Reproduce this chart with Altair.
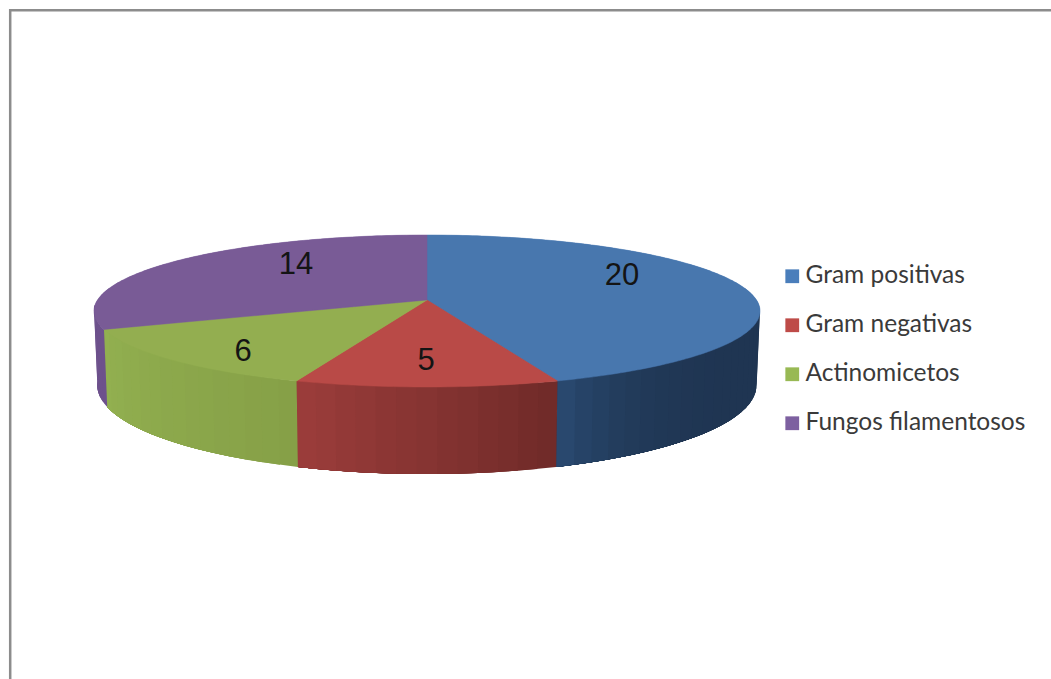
import math

import altair as alt
import pandas as pd

# Series
categories = ["Gram positivas", "Gram negativas", "Actinomicetos", "Fungos filamentosos"]
values = [20, 5, 6, 14]

# Colours
legend_colors = ["#4a7ebb", "#be4b48", "#98b954", "#7d60a0"]
top_colors = ["#4877ae", "#b94a47", "#93ae50", "#795b96"]
wall_from = ["#1f3552", "#6f2a28", "#86a047", "#6d518c"]
wall_to = ["#2a4b72", "#9c3d3b", "#92b050", "#6d518c"]

# Label anchor points for the value texts
label_x = [622, 426, 243, 296]
label_y = [276, 361, 352, 265]

# Perspective disc
CX, CY = 427, 300
RX, RY = 329.5, 74.4
TILT = 0.1447
BASE_Y, BASE_RY, BASE_SCALE = 372.7, 86.7, 0.99
WALL_START, WALL_END = 94, 266
W, H = 1051, 679


def top_point(deg):
    u, v = math.sin(math.radians(deg)), -math.cos(math.radians(deg))
    w = 1 - TILT * v
    return [CX + RX * u / w, CY + RY * v / w]


def base_point(deg):
    u, v = math.sin(math.radians(deg)), -math.cos(math.radians(deg))
    w = 1 - TILT * v
    return [CX + BASE_SCALE * RX * u / w, BASE_Y + BASE_RY * v / w]


def mix(c0, c1, t):
    a = [int(c0[i:i + 2], 16) for i in (1, 3, 5)]
    b = [int(c1[i:i + 2], 16) for i in (1, 3, 5)]
    return "#" + "".join(f"{round(p + (q - p) * t):02x}" for p, q in zip(a, b))


def feature(ring, **props):
    return {
        "type": "Feature",
        "geometry": {"type": "Polygon", "coordinates": [ring + [ring[0]]]},
        "properties": props,
    }


# Slice boundaries in degrees, clockwise from the back of the disc
total = sum(values)
edges = [0.0]
for v in values:
    edges.append(edges[-1] + 360 * v / total)

wedges, walls = [], []
for i, name in enumerate(categories):
    a0, a1 = edges[i], edges[i + 1]
    steps = max(2, int(a1 - a0))
    arc = [top_point(a0 + (a1 - a0) * s / steps) for s in range(steps + 1)]
    wedges.append(feature([[CX, CY]] + arc, series=name, fill=top_colors[i]))

    w0, w1 = max(a0, WALL_START), min(a1, WALL_END)
    if w1 > w0:
        n = max(2, int((w1 - w0) / 3))
        # Each band runs on to the end of the slice, so the next one paints over it
        # and no gaps show between neighbouring shades.
        for s in range(n):
            d0 = w0 + (w1 - w0) * s / n
            t = (s + 0.5) / n
            # Shade stays dark over most of the blue wall and lifts near its left end
            if i == 0:
                t = t ** 6
            span = [d0 + (w1 - d0) * k / 8 for k in range(9)]
            walls.append(
                feature(
                    [top_point(d) for d in span] + [base_point(d) for d in reversed(span)],
                    series=name,
                    fill=mix(wall_from[i], wall_to[i], t),
                )
            )

projection = dict(type="identity", scale=1, translate=[0, 0])

# Flat layer that carries the colour legend
legend_layer = (
    alt.Chart(alt.Data(values=wedges))
    .mark_geoshape(strokeWidth=0)
    .encode(
        color=alt.Color(
            "properties.series:N",
            scale=alt.Scale(domain=categories, range=legend_colors),
            legend=alt.Legend(
                title=None,
                orient="none",
                legendX=780,
                legendY=264,
                symbolType="square",
                symbolSize=190,
                symbolStrokeWidth=0,
                symbolOpacity=1,
                labelFont="Lato",
                labelFontSize=24.5,
                labelColor="#3a3a3a",
                labelOffset=1,
                rowPadding=24,
                labelLimit=300,
            ),
        )
    )
    .project(**projection)
)

wall_layer = (
    alt.Chart(alt.Data(values=walls))
    .mark_geoshape(strokeWidth=0)
    .encode(fill=alt.Fill("properties.fill:N", scale=None, legend=None))
    .project(**projection)
)

top_layer = (
    alt.Chart(alt.Data(values=wedges))
    .mark_geoshape(strokeWidth=0.5)
    .encode(
        fill=alt.Fill("properties.fill:N", scale=None, legend=None),
        stroke=alt.Stroke("properties.fill:N", scale=None, legend=None),
    )
    .project(**projection)
)

# Value labels, placed through pixel-aligned linear scales
labels = pd.DataFrame({"value": values, "lx": label_x, "ly": label_y})
x_scale = alt.Scale(domain=[0, W], range=[0, W])
y_scale = alt.Scale(domain=[0, H], range=[0, H])
text_layer = (
    alt.Chart(labels)
    .mark_text(font="Liberation Sans", fontSize=31, color="#141414", align="center", baseline="middle")
    .encode(
        x=alt.X("lx:Q", scale=x_scale, axis=None),
        y=alt.Y("ly:Q", scale=y_scale, axis=None),
        text=alt.Text("value:Q"),
    )
)

# Frame: only the top and left sides fall inside the page
frame = pd.DataFrame(
    {"x0": [10.2, 9], "x1": [10.2, W], "y0": [9, 10.2], "y1": [H, 10.2]}
)
frame_layer = (
    alt.Chart(frame)
    .mark_rule(color="#8c8c8c", strokeWidth=2.5)
    .encode(
        x=alt.X("x0:Q", scale=x_scale, axis=None),
        x2="x1:Q",
        y=alt.Y("y0:Q", scale=y_scale, axis=None),
        y2="y1:Q",
    )
)

chart = (
    alt.layer(legend_layer, wall_layer, top_layer, frame_layer, text_layer)
    .resolve_scale(color="independent")
    .properties(
        width=W,
        height=H,
        padding=0,
        autosize=alt.AutoSizeParams(type="none"),
        background="white",
    )
    .configure_view(stroke=None)
)

chart.save("out.html", embed_options={"renderer": "svg", "actions": False})
